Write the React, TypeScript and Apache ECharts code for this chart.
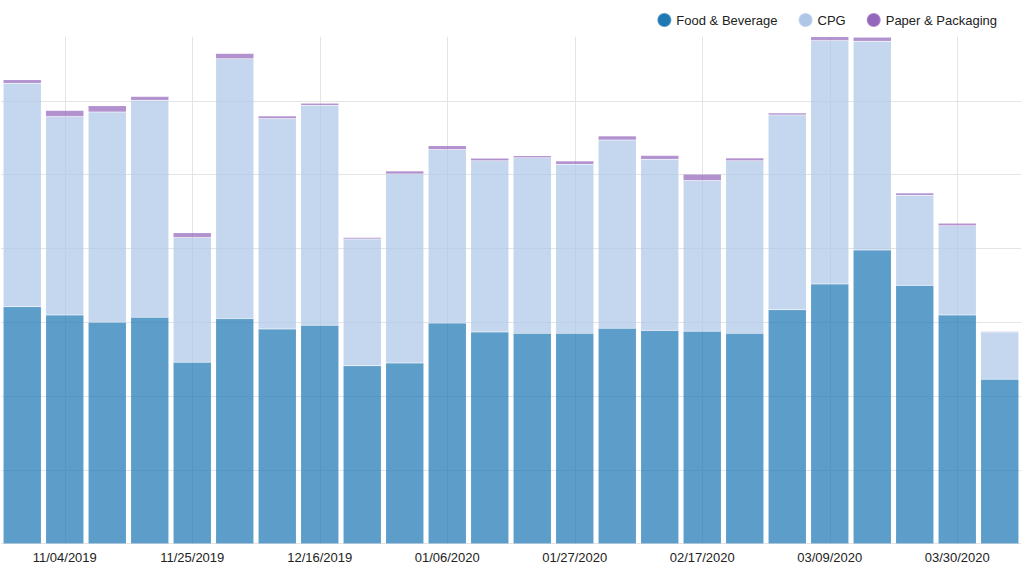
import React, { useEffect, useRef } from "react";
import * as echarts from "echarts";

const weeks = [
  "10/28/2019", "11/04/2019", "11/11/2019", "11/18/2019", "11/25/2019", "12/02/2019",
  "12/09/2019", "12/16/2019", "12/23/2019", "12/30/2019", "01/06/2020", "01/13/2020",
  "01/20/2020", "01/27/2020", "02/03/2020", "02/10/2020", "02/17/2020", "02/24/2020",
  "03/02/2020", "03/09/2020", "03/16/2020", "03/23/2020", "03/30/2020", "04/06/2020",
];

const foodBeverage = [
  3.21, 3.10, 3.00, 3.07, 2.46, 3.05, 2.91, 2.96, 2.41, 2.45, 2.99, 2.87,
  2.85, 2.85, 2.92, 2.89, 2.88, 2.85, 3.17, 3.52, 3.98, 3.50, 3.10, 2.23,
];

const cpg = [
  3.03, 2.69, 2.85, 2.94, 1.69, 3.52, 2.85, 2.98, 1.72, 2.56, 2.35, 2.32,
  2.38, 2.29, 2.55, 2.32, 2.04, 2.34, 2.64, 3.30, 2.83, 1.22, 1.21, 0.64,
];

const paperPackaging = [
  0.046, 0.081, 0.085, 0.049, 0.064, 0.073, 0.037, 0.027, 0.019, 0.041, 0.054, 0.033,
  0.027, 0.045, 0.054, 0.049, 0.087, 0.037, 0.027, 0.049, 0.054, 0.033, 0.033, 0.008,
];

const seriesNames = ["Food & Beverage", "CPG", "Paper & Packaging"];
const solidColors = ["#1f77b4", "#aec7e8", "#9467bd"];
const barColors = ["rgba(31,119,180,0.72)", "rgba(174,199,232,0.72)", "rgba(148,103,189,0.72)"];

const showEveryThird = (index: number) => index % 3 === 1;

export default function App() {
  const ref = useRef<HTMLDivElement>(null);

  useEffect(() => {
    if (!ref.current) return;
    const chart = echarts.init(ref.current, undefined, { renderer: "svg" });
    const dataSets = [foodBeverage, cpg, paperPackaging];
    chart.setOption({
      animation: false,
      backgroundColor: "#ffffff",
      textStyle: { fontFamily: "'Liberation Sans', Arial, sans-serif" },
      legend: {
        top: 7,
        right: 22,
        icon: "circle",
        itemWidth: 14,
        itemHeight: 14,
        itemGap: 20,
        textStyle: { fontSize: 13, color: "#222", fontFamily: "'Liberation Sans', Arial, sans-serif" },
        data: seriesNames.map((n, i) => ({ name: n, itemStyle: { color: solidColors[i] } })),
      },
      grid: { left: 1, right: 3, top: 36.7, height: 507, containLabel: false },
      xAxis: {
        type: "category",
        data: weeks,
        boundaryGap: true,
        axisLine: { show: false },
        axisTick: { show: false },
        axisLabel: {
          interval: showEveryThird,
          fontSize: 13,
          color: "#222",
          margin: 7,
          fontFamily: "'Liberation Sans', Arial, sans-serif",
        },
        splitLine: {
          show: true,
          interval: showEveryThird,
          alignWithLabel: true,
          lineStyle: { color: "#e4e4e4", width: 1 },
        },
      },
      yAxis: {
        type: "value",
        min: 0,
        max: 6.87,
        interval: 1,
        axisLine: { show: false },
        axisTick: { show: false },
        axisLabel: { show: false },
        splitLine: { show: true, showMaxLine: false, lineStyle: { color: "#e4e4e4", width: 1 } },
      },
      series: seriesNames.map((name, i) => ({
        name,
        type: "bar",
        stack: "total",
        data: dataSets[i],
        barCategoryGap: "10.5%",
        itemStyle: {
          color: barColors[i],
          borderColor: "rgba(255,255,255,0.25)",
          borderWidth: 0.5,
        },
        emphasis: { disabled: true },
      })),
    });
    return () => chart.dispose();
  }, []);

  return (
    <div
      ref={ref}
      style={{ position: "fixed", left: 0, top: 0, width: 1024, height: 574, background: "#fff" }}
    />
  );
}
